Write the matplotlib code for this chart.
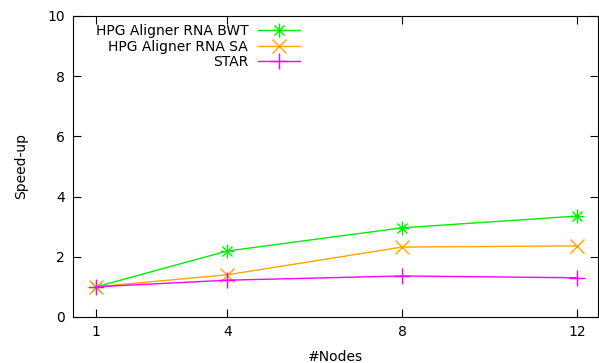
import matplotlib
matplotlib.use("Agg")
import matplotlib.pyplot as plt
from matplotlib.legend_handler import HandlerTuple

nodes = [1, 4, 8, 12]
bwt = [1.0, 2.19, 2.96, 3.35]
sa = [1.0, 1.40, 2.32, 2.36]
star = [1.0, 1.22, 1.36, 1.30]

fig = plt.figure(figsize=(5.99, 3.63), dpi=100)
ax = fig.add_axes([0.122, 0.127, 0.876, 0.829])

green = '#00ee00'
orange = '#ffa500'
magenta = '#ff00ff'

# BWT uses the gnuplot "star" point: + and x on top of each other
l1, = ax.plot(nodes, bwt, color=green, lw=1, marker='+', ms=10, mew=1)
l1b, = ax.plot(nodes, bwt, color=green, lw=0, marker='x', ms=7.5, mew=1)
l2, = ax.plot(nodes, sa, color=orange, lw=1, marker='x', ms=10, mew=1)
l3, = ax.plot(nodes, star, color=magenta, lw=1, marker='+', ms=12, mew=1)

ax.set_xlim(0.47, 12.48)
ax.set_ylim(0, 10)
ax.set_xticks(nodes)
ax.set_yticks([0, 2, 4, 6, 8, 10])
ax.tick_params(direction='in', length=6, top=True, right=True, labelsize=10, pad=6)
ax.set_xlabel('#Nodes', fontsize=10, labelpad=8)
ax.set_ylabel('Speed-up', fontsize=10, labelpad=14)

leg = ax.legend([(l1, l1b), l2, l3],
                ['HPG Aligner RNA BWT', 'HPG Aligner RNA SA', 'STAR'],
                handler_map={tuple: HandlerTuple(ndivide=1, pad=0)},
                loc='upper left', bbox_to_anchor=(0.027, 1.0),
                frameon=False, markerfirst=False, handlelength=3.0,
                handletextpad=0.7, labelspacing=0.1, fontsize=10,
                borderaxespad=0.2)
leg._legend_box._children[-1]._children[0].align = 'right'

fig.savefig('out.png', dpi=100)
